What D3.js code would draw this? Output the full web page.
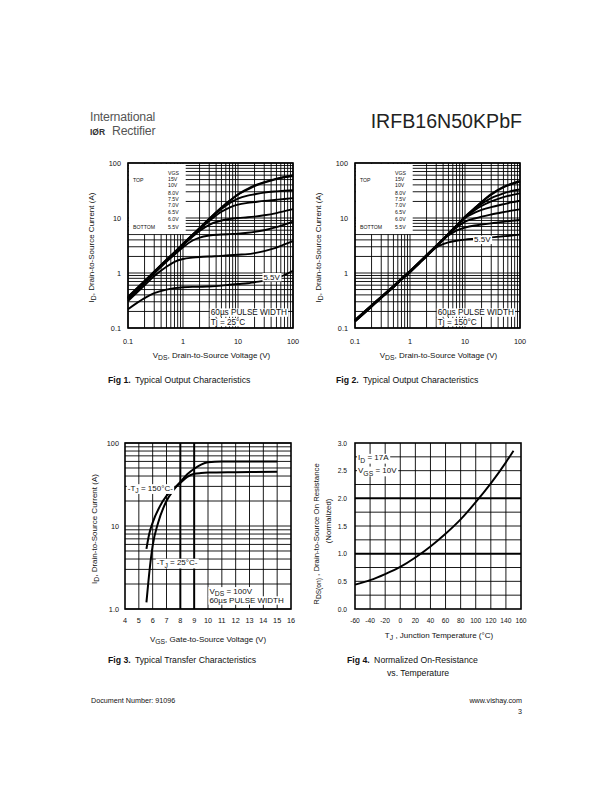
<!DOCTYPE html>
<html><head><meta charset="utf-8">
<script src="https://cdn.jsdelivr.net/npm/d3@7"></script>
<style>
body{margin:0;background:#fff}
svg{display:block}
text{font-family:"Liberation Sans",Arial,Helvetica,sans-serif;fill:#111}
</style>
</head><body>
<svg id="c" width="612" height="792"></svg>
<script>
// ---------------- DATA ----------------
const vgsLevels = ["15V","10V","8.0V","7.5V","7.0V","6.5V","6.0V","5.5V"];
const vdsGrid = [0.1,0.2,0.3,0.5,0.7,1,1.5,2,3,5,7,10,15,20,30,50,70,100];
const logTickLabels = ["0.1","1","10","100"];

// Fig 1, Tj = 25 C
const f1_15V = [0.37,0.72,1.07,1.75,2.4,3.4,5.0,6.6,9.7,15.5,20.5,27,34,39,45,52,56,60];
const f1_10V = [0.36,0.71,1.05,1.72,2.37,3.35,4.95,6.5,9.6,15.3,20.3,26.5,33,38,44,51,55,58];
const f1_8V  = [0.35,0.70,1.04,1.70,2.35,3.3,4.9,6.4,9.3,14.5,18.5,22.5,25.5,27,29,30.5,31.3,32];
const f1_7V5 = [0.35,0.69,1.03,1.68,2.3,3.25,4.8,6.2,8.8,13,15.5,17.5,18.8,19.5,20.5,21.5,22.2,23];
const f1_7V  = [0.34,0.68,1.02,1.66,2.28,3.2,4.6,5.8,7.5,9.0,9.6,10,10.3,10.6,11.2,12.3,13.3,14.5];
const f1_6V5 = [0.33,0.66,0.98,1.6,2.15,2.95,3.9,4.4,4.8,5.0,5.1,5.2,5.4,5.6,6.0,6.8,7.6,8.6];
const f1_6V  = [0.31,0.60,0.88,1.3,1.6,1.8,1.9,1.95,2.0,2.05,2.1,2.15,2.2,2.3,2.5,2.9,3.3,3.8];
const f1_5V5 = [0.22,0.35,0.43,0.50,0.53,0.55,0.56,0.56,0.57,0.59,0.61,0.63,0.65,0.68,0.72,0.8,0.92,1.1];

// Fig 2, Tj = 150 C
const f2_15V = [0.14,0.26,0.37,0.58,0.79,1.09,1.6,2.12,3.15,5.2,7.3,10.6,15.2,19.6,27.2,37,42,47];
const f2_10V = [0.139,0.258,0.368,0.575,0.785,1.08,1.59,2.1,3.13,5.15,7.25,10.5,15,19.4,26.5,36,41,46];
const f2_8V  = [0.137,0.255,0.365,0.57,0.78,1.07,1.58,2.08,3.1,5.1,7.2,10.4,14.5,18,23,28,31,33];
const f2_7V5 = [0.136,0.253,0.363,0.565,0.775,1.06,1.57,2.07,3.08,5.07,7.15,10.3,13.8,16.5,20,24,26,28];
const f2_7V  = [0.135,0.25,0.36,0.56,0.77,1.05,1.56,2.06,3.06,5.05,7.1,10,12.5,14,15.8,17.8,19.2,20.6];
const f2_6V5 = [0.134,0.248,0.358,0.557,0.765,1.045,1.55,2.05,3.05,5.0,6.7,8.6,9.8,10.6,11.6,12.8,13.6,14.4];
const f2_6V  = [0.133,0.246,0.356,0.555,0.76,1.04,1.54,2.04,3.03,4.8,5.9,6.7,7.3,7.6,8.0,8.5,8.9,9.2];
const f2_5V5 = [0.131,0.243,0.352,0.55,0.755,1.03,1.52,2.0,2.9,3.6,3.85,4.05,4.2,4.3,4.45,4.65,4.8,5.0];

// Fig 3, transfer characteristics
const f3XTicks = [4,5,6,7,8,9,10,11,12,13,14,15,16];
const f3YTickLabels = ["1.0","10","100"];
const f3Vgs150 = [5.55,5.75,6,6.5,7,7.5,8,8.5,9,9.5,10,12,15];
const f3Id150  = [5.3,8,11,17,23,28,33,39,42.5,43.5,44,44.5,45];
const f3Vgs25  = [5.55,5.8,6,6.4,7,7.5,8,8.5,9,9.5,10,11,12,15];
const f3Id25   = [1.2,3.2,5.8,11,20,27,34,42,49,55,58.5,60,60,60];

// Fig 4, normalized on-resistance
const f4XTicks = [-60,-40,-20,0,20,40,60,80,100,120,140,160];
const f4YTicks = [0.0,0.5,1.0,1.5,2.0,2.5,3.0];
const f4Temp = [-60,-40,-20,0,20,40,60,80,100,120,140,150];
const f4Rds  = [0.44,0.52,0.63,0.76,0.93,1.13,1.36,1.62,1.93,2.27,2.65,2.86];

// ---------------- DRAWING ----------------
const svg = d3.select("#c");

function rich(sel, parts, baseSize){
  let prevSub = false;
  parts.forEach(([t, sub]) => {
    const ts = sel.append("tspan").text(t);
    if (sub && !prevSub) ts.attr("dy", baseSize*0.3);
    else if (!sub && prevSub) ts.attr("dy", -baseSize*0.3);
    if (sub) ts.attr("font-size", baseSize*0.85);
    prevSub = sub;
  });
}

function label(g, x, y, parts, size, opts={}){
  const t = g.append("text").attr("x", x).attr("y", y).attr("font-size", size)
    .attr("text-anchor", opts.anchor || "start");
  if (opts.rotate) t.attr("transform", `rotate(-90,${x},${y})`);
  rich(t, parts, size);
  return t;
}

function bgLabel(g, x, y, parts, size, maxY){
  const t = label(g, x, y, parts, size);
  const b = t.node().getBBox();
  const top = b.y + 0.4;
  let bottom = b.y + b.height - 0.2;
  if (maxY !== undefined) bottom = Math.min(bottom, maxY);
  g.insert("rect", () => t.node()).attr("x", b.x-1).attr("y", top)
    .attr("width", b.width+2).attr("height", bottom-top).attr("fill", "#fff");
  return t;
}

// Header
svg.append("text").attr("x", 90).attr("y", 121).attr("font-size", 12.3).style("fill","#555")
  .attr("letter-spacing", -0.2).text("International");
svg.append("text").attr("x", 90).attr("y", 134.5).attr("font-size", 8.5).attr("font-weight","bold")
  .style("fill","#333").attr("font-family","Liberation Serif, serif").text("IØR");
svg.append("text").attr("x", 112).attr("y", 135).attr("font-size", 12.3).style("fill","#555")
  .attr("letter-spacing", -0.2).text("Rectifier");
svg.append("text").attr("x", 522).attr("y", 128).attr("font-size", 19.6).attr("text-anchor","end")
  .style("fill","#222").text("IRFB16N50KPbF");

// ---------- log-log output characteristic panel ----------
function outputPanel(x0, y0, series, tjText, lbl55){
  const size = 165;
  const x = d3.scaleLog().domain([0.1,100]).range([x0, x0+size]);
  const y = d3.scaleLog().domain([0.1,100]).range([y0+size, y0]);
  const g = svg.append("g");
  g.selectAll("line.vx").data(x.ticks()).join("line")
    .attr("x1", d=>x(d)).attr("x2", d=>x(d)).attr("y1", y0).attr("y2", y0+size)
    .attr("stroke","#000").attr("stroke-width",0.9);
  g.selectAll("line.hy").data(y.ticks()).join("line")
    .attr("y1", d=>y(d)).attr("y2", d=>y(d)).attr("x1", x0).attr("x2", x0+size)
    .attr("stroke","#000").attr("stroke-width",0.9);
  // legend box
  g.append("rect").attr("x", x0+0.8).attr("y", y0+0.8)
    .attr("width", x(1.12)-x0-0.8).attr("height", y(5)-y0-1.3).attr("fill","#fff");
  const lg = g.append("g");
  lg.append("text").attr("x", x0+5).attr("y", y0+19).attr("font-size",5.2).text("TOP");
  lg.append("text").attr("x", x0+5).attr("y", y0+66).attr("font-size",5.2).text("BOTTOM");
  lg.append("text").attr("x", x0+40).attr("y", y0+12).attr("font-size",5.2).text("VGS");
  const rowOff = [18,24,31.5,38,44,50.5,58,66];
  vgsLevels.forEach((v,i)=>{
    lg.append("text").attr("x", x0+40).attr("y", y0+rowOff[i]).attr("font-size",5.2).text(v);
  });
  // curves
  const line = d3.line().x((d,i)=>x(vdsGrid[i])).y(d=>y(d)).curve(d3.curveMonotoneX);
  g.selectAll("path.c").data(series).join("path")
    .attr("d", d=>line(d)).attr("fill","none").attr("stroke","#000").attr("stroke-width",1.9);
  // annotations
  bgLabel(g, x(lbl55[0]), y(lbl55[1])+3, [["5.5V",false]], 8);
  bgLabel(g, x(3.2), y0+size-13, [["60µs PULSE WIDTH",false]], 8.2);
  bgLabel(g, x(3.2), y0+size-3.5, [[tjText,false]], 8.2, y0+size-1);
  // border
  g.append("rect").attr("x", x0).attr("y", y0).attr("width", size).attr("height", size)
    .attr("fill","none").attr("stroke","#000").attr("stroke-width",1.6);
  // tick labels
  [0.1,1,10,100].forEach((v,i)=>{
    g.append("text").attr("x", x(v)).attr("y", y0+size+16).attr("font-size",7.3)
      .attr("text-anchor","middle").text(logTickLabels[i]);
    g.append("text").attr("x", x0-7).attr("y", y(v)+2.5).attr("font-size",7.3)
      .attr("text-anchor","end").text(logTickLabels[i]);
  });
  label(g, x0+size/2+1, y0+size+30, [["V",false],["DS",true],[", Drain-to-Source Voltage (V)",false]], 8, {anchor:"middle"});
  label(g, x0-34, y0+size/2+2, [["I",false],["D",true],[", Drain-to-Source Current (A)",false]], 8, {anchor:"middle", rotate:true});
  return {x,y,g};
}

const p1 = outputPanel(128, 163, [f1_15V,f1_10V,f1_8V,f1_7V5,f1_7V,f1_6V5,f1_6V,f1_5V5], "Tj = 25°C", [29,0.86]);
p1.g.append("line").attr("x1", p1.x(68)).attr("y1", p1.y(0.92)).attr("x2", p1.x(82)).attr("y2", p1.y(1.0))
  .attr("stroke","#000").attr("stroke-width",0.8);
const p2 = outputPanel(355, 163, [f2_15V,f2_10V,f2_8V,f2_7V5,f2_7V,f2_6V5,f2_6V,f2_5V5], "Tj = 150°C", [14.6,4.1]);

// captions
function caption(x, y, num, txt){
  const t = svg.append("text").attr("x", x).attr("y", y).attr("font-size", 8.7);
  t.append("tspan").attr("font-weight","bold").text(num);
  t.append("tspan").text("  " + txt).attr("dx", 2);
  return t;
}
caption(108, 383, "Fig 1.", "Typical Output Characteristics");
caption(336, 383, "Fig 2.", "Typical Output Characteristics");
caption(108, 663, "Fig 3.", "Typical Transfer Characteristics");
caption(347, 663, "Fig 4.", "Normalized On-Resistance");
svg.append("text").attr("x", 387).attr("y", 676).attr("font-size", 8.7).text("vs. Temperature");

// ---------- Fig 3 ----------
(function(){
  const x0=125, x1=291, y0=443, y1=609;
  const x = d3.scaleLinear().domain([4,16]).range([x0,x1]);
  const y = d3.scaleLog().domain([1,100]).range([y1,y0]);
  const g = svg.append("g");
  g.selectAll("line.v").data(d3.range(5,16)).join("line")
    .attr("x1", d=>x(d)).attr("x2", d=>x(d)).attr("y1", y0).attr("y2", y1)
    .attr("stroke","#000").attr("stroke-width", d=> (d===8||d===9)?2:0.9);
  g.selectAll("line.h").data(y.ticks()).join("line")
    .attr("y1", d=>y(d)).attr("y2", d=>y(d)).attr("x1", x0).attr("x2", x1)
    .attr("stroke","#000").attr("stroke-width",0.9);
  const l150 = d3.line().x((d,i)=>x(f3Vgs150[i])).y(d=>y(d)).curve(d3.curveMonotoneX);
  const l25 = d3.line().x((d,i)=>x(f3Vgs25[i])).y(d=>y(d)).curve(d3.curveMonotoneX);
  g.append("path").attr("d", l150(f3Id150)).attr("fill","none").attr("stroke","#000").attr("stroke-width",2);
  g.append("path").attr("d", l25(f3Id25)).attr("fill","none").attr("stroke","#000").attr("stroke-width",2);
  bgLabel(g, x(4.2), y(28.5)+2.5, [["-T",false],["J",true],[" = 150°C-",false]], 8);
  bgLabel(g, x(6.3), y(3.6)+2.5, [["-T",false],["J",true],[" = 25°C-",false]], 8);
  bgLabel(g, x(10.1), y(1.64)+2.5, [["V",false],["DS",true],[" = 100V",false]], 8);
  bgLabel(g, x(10.1), y(1.27)+2.5, [["60µs PULSE WIDTH",false]], 8);
  g.append("rect").attr("x",x0).attr("y",y0).attr("width",x1-x0).attr("height",y1-y0)
    .attr("fill","none").attr("stroke","#000").attr("stroke-width",1.6);
  f3XTicks.forEach(v=>{
    g.append("text").attr("x", x(v)).attr("y", y1+14).attr("font-size",7.3)
      .attr("text-anchor","middle").text(v);
  });
  [1,10,100].forEach((v,i)=>{
    g.append("text").attr("x", x0-6).attr("y", y(v)+2.5).attr("font-size",7.3)
      .attr("text-anchor","end").text(f3YTickLabels[i]);
  });
  label(g, (x0+x1)/2, y1+33, [["V",false],["GS",true],[", Gate-to-Source Voltage (V)",false]], 8, {anchor:"middle"});
  label(g, x0-28, (y0+y1)/2+3, [["I",false],["D",true],[", Drain-to-Source Current (A)",false]], 8, {anchor:"middle", rotate:true});
})();

// ---------- Fig 4 ----------
(function(){
  const x0=355, x1=521, y0=443, y1=609;
  const x = d3.scaleLinear().domain([-60,160]).range([x0,x1]);
  const y = d3.scaleLinear().domain([0,3]).range([y1,y0]);
  const g = svg.append("g");
  g.selectAll("line.v").data(d3.range(-40,160,20)).join("line")
    .attr("x1", d=>x(d)).attr("x2", d=>x(d)).attr("y1", y0).attr("y2", y1)
    .attr("stroke","#000").attr("stroke-width",0.9);
  g.selectAll("line.h").data(d3.range(0.25,3,0.25)).join("line")
    .attr("y1", d=>y(d)).attr("y2", d=>y(d)).attr("x1", x0).attr("x2", x1)
    .attr("stroke","#000").attr("stroke-width", d=> (Math.abs(d-1)<1e-6||Math.abs(d-2)<1e-6)?2:0.9);
  const ln = d3.line().x((d,i)=>x(f4Temp[i])).y(d=>y(d)).curve(d3.curveMonotoneX);
  g.append("path").attr("d", ln(f4Rds)).attr("fill","none").attr("stroke","#000").attr("stroke-width",1.9);
  bgLabel(g, x(-56), y(2.73)+2.5, [["I",false],["D",true],[" = 17A",false]], 8);
  bgLabel(g, x(-56), y(2.5)+2.5, [["V",false],["GS",true],[" = 10V",false]], 8);
  g.append("rect").attr("x",x0).attr("y",y0).attr("width",x1-x0).attr("height",y1-y0)
    .attr("fill","none").attr("stroke","#000").attr("stroke-width",1.6);
  f4XTicks.forEach(v=>{
    g.append("text").attr("x", x(v)).attr("y", y1+14).attr("font-size",6.7)
      .attr("text-anchor","middle").text(v);
  });
  f4YTicks.forEach(v=>{
    g.append("text").attr("x", x0-8).attr("y", y(v)+2.5).attr("font-size",6.7)
      .attr("text-anchor","end").text(v.toFixed(1));
  });
  label(g, (x0+x1)/2+1, y1+29, [["T",false],["J",true],[" , Junction Temperature (°C)",false]], 8, {anchor:"middle"});
  label(g, x0-36, 534, [["R",false],["DS(on)",true],[" , Drain-to-Source On Resistance",false]], 7.8, {anchor:"middle", rotate:true});
  label(g, x0-24, 521, [["(Normalized)",false]], 7.8, {anchor:"middle", rotate:true});
})();

// Footer
svg.append("text").attr("x", 91).attr("y", 703).attr("font-size", 7.2).text("Document Number: 91096");
svg.append("text").attr("x", 522).attr("y", 703).attr("font-size", 7.2).attr("text-anchor","end").text("www.vishay.com");
svg.append("text").attr("x", 522).attr("y", 714).attr("font-size", 7.2).attr("text-anchor","end").text("3");
</script>
</body></html>
